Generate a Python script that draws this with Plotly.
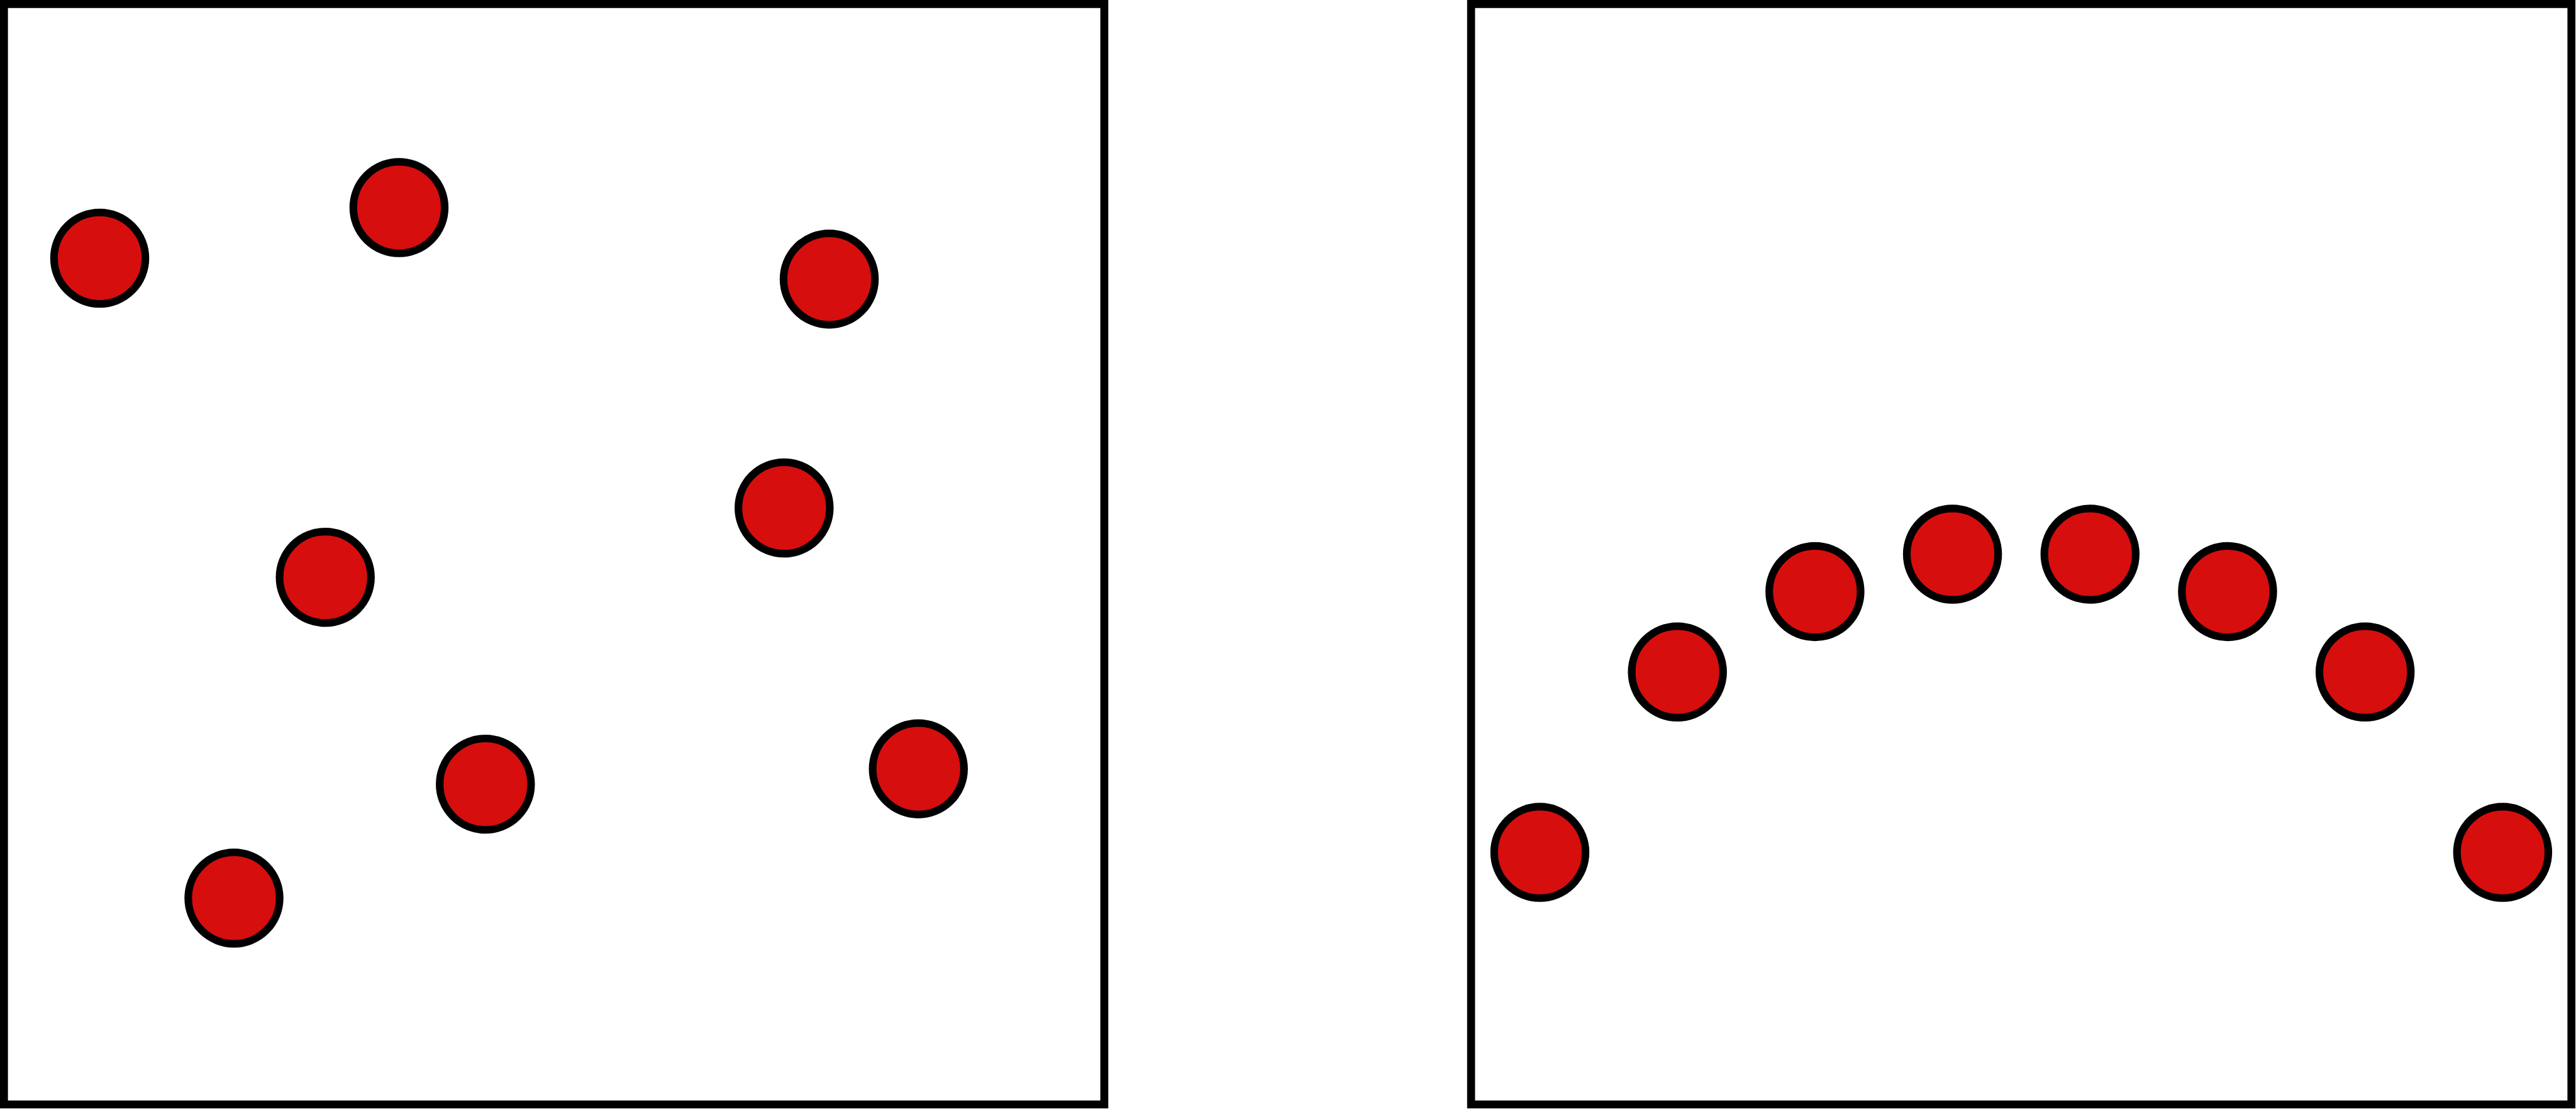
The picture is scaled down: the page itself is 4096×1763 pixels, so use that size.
import plotly.graph_objects as go

# Left panel: scattered points (data units, axes 0..10)
left_x = [0.87, 3.59, 7.50, 2.92, 7.09, 4.375, 8.31, 2.09]
left_y = [7.69, 8.15, 7.50, 4.79, 5.42, 2.91, 3.05, 1.875]

# Right panel: arched sequence (x = 1..8, axes x 0.5..8.5, y 0..10)
right_x = [1, 2, 3, 4, 5, 6, 7, 8]
right_y = [2.29, 3.93, 4.66, 5.00, 5.00, 4.66, 3.93, 2.29]

S = 4096 / 4214
W, H = 4096, 1763

fill_color = "#d70e0e"
edge_color = "#000000"
marker_size = 149.5 * S
marker_line = 12.5 * S
frame_w = 13 * S

fig = go.Figure()
marker = dict(size=marker_size, color=fill_color,
              line=dict(color=edge_color, width=marker_line), symbol="circle")
fig.add_trace(go.Scatter(x=left_x, y=left_y, mode="markers", marker=marker,
                         xaxis="x", yaxis="y", showlegend=False, hoverinfo="skip"))
fig.add_trace(go.Scatter(x=right_x, y=right_y, mode="markers", marker=marker,
                         xaxis="x2", yaxis="y2", showlegend=False, hoverinfo="skip"))

ax = dict(showgrid=False, zeroline=False, showticklabels=False, ticks="",
          showline=False, fixedrange=True)
ydom = [(1814 - 1806.5) / 1814, (1814 - 6.5) / 1814]
fig.update_layout(
    width=W, height=H, autosize=False,
    margin=dict(l=0, r=0, t=0, b=0, pad=0),
    paper_bgcolor="white", plot_bgcolor="white",
    xaxis=dict(ax, domain=[6.5 / 4214, 1806.5 / 4214], range=[0, 10]),
    yaxis=dict(ax, domain=ydom, range=[0, 10]),
    xaxis2=dict(ax, domain=[2406.5 / 4214, 4206.5 / 4214], range=[0.5, 8.5], anchor="y2"),
    yaxis2=dict(ax, domain=ydom, range=[0, 10], anchor="x2"),
)
for xr, yr in (("x domain", "y domain"), ("x2 domain", "y2 domain")):
    fig.add_shape(type="rect", xref=xr, yref=yr, x0=0, x1=1, y0=0, y1=1,
                  line=dict(color="black", width=frame_w), fillcolor="rgba(0,0,0,0)",
                  layer="above")

fig.write_html(
    "out.html",
    config={"displayModeBar": False, "responsive": False},
    post_script="document.body.style.margin='0';document.body.style.overflow='hidden';",
)
